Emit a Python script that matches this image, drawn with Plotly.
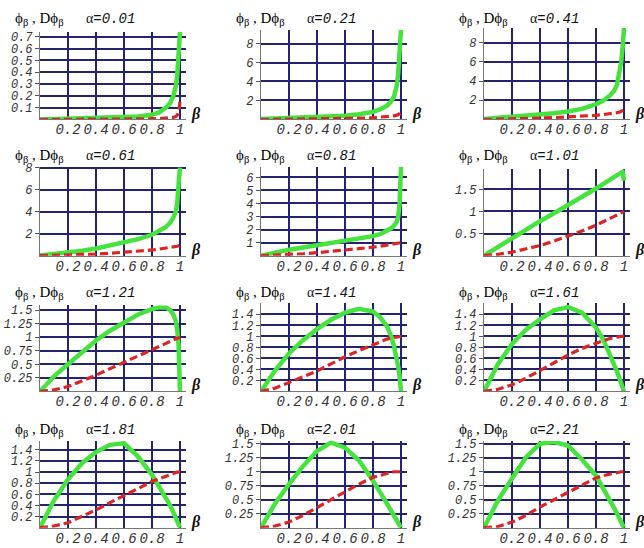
import plotly.graph_objects as go

# beta sample points shared by all panels
beta = [0, 0.1, 0.2, 0.3, 0.4, 0.5, 0.6, 0.7, 0.8, 0.85, 0.9, 0.93, 0.95, 0.97, 0.98, 0.99, 1.0]

alphas = ["0.01", "0.21", "0.41", "0.61", "0.81", "1.01",
          "1.21", "1.41", "1.61", "1.81", "2.01", "2.21"]

# phi_beta (green)
phi = [
    [0.0, 0.003, 0.005, 0.007, 0.01, 0.012, 0.018, 0.025, 0.04, 0.06, 0.1, 0.14, 0.19, 0.28, 0.37, 0.52, 0.74],
    [0.05, 0.1, 0.15, 0.2, 0.25, 0.3, 0.4, 0.55, 0.8, 1.05, 1.45, 1.9, 2.4, 3.6, 4.8, 7.2, 9.45],
    [0.05, 0.15, 0.27, 0.38, 0.5, 0.65, 0.82, 1.1, 1.6, 1.95, 2.5, 3.0, 3.6, 4.9, 6.0, 7.5, 9.5],
    [0.02, 0.15, 0.27, 0.45, 0.65, 0.9, 1.15, 1.5, 1.9, 2.2, 2.6, 3.0, 3.4, 4.0, 4.7, 6.5, 8.0],
    [0.0, 0.25, 0.45, 0.62, 0.8, 0.95, 1.1, 1.3, 1.5, 1.65, 1.9, 2.1, 2.3, 2.6, 3.0, 4.0, 6.8],
    [0.0, 0.2, 0.4, 0.6, 0.78, 0.96, 1.14, 1.33, 1.52, 1.62, 1.72, 1.78, 1.83, 1.88, 1.91, 1.9, 1.7],
    [0.0, 0.28, 0.5, 0.73, 0.94, 1.12, 1.28, 1.42, 1.52, 1.55, 1.55, 1.5, 1.43, 1.3, 1.15, 0.85, 0.0],
    [0.0, 0.38, 0.69, 0.93, 1.13, 1.3, 1.43, 1.5, 1.45, 1.35, 1.18, 1.0, 0.82, 0.6, 0.45, 0.28, 0.0],
    [0.0, 0.5, 0.86, 1.12, 1.31, 1.47, 1.53, 1.43, 1.16, 0.95, 0.66, 0.5, 0.36, 0.22, 0.14, 0.07, 0.0],
    [0.0, 0.49, 0.87, 1.16, 1.36, 1.49, 1.52, 1.28, 0.95, 0.75, 0.52, 0.4, 0.29, 0.17, 0.11, 0.05, 0.0],
    [0.0, 0.43, 0.78, 1.1, 1.37, 1.52, 1.43, 1.2, 0.84, 0.65, 0.43, 0.3, 0.21, 0.12, 0.08, 0.04, 0.0],
    [0.0, 0.49, 0.88, 1.26, 1.5, 1.53, 1.47, 1.22, 0.93, 0.72, 0.49, 0.35, 0.25, 0.15, 0.1, 0.05, 0.0],
]

# D phi_beta (red dashed)
dphi = [
    [0, 0, 0, 0, 0.001, 0.001, 0.002, 0.003, 0.005, 0.007, 0.01, 0.013, 0.017, 0.025, 0.035, 0.06, 0.15],
    [0, 0.01, 0.02, 0.03, 0.05, 0.07, 0.1, 0.13, 0.18, 0.22, 0.28, 0.33, 0.38, 0.45, 0.5, 0.6, 0.8],
    [0, 0.02, 0.05, 0.09, 0.14, 0.19, 0.25, 0.33, 0.43, 0.5, 0.58, 0.65, 0.7, 0.78, 0.83, 0.9, 1.0],
    [0, 0.02, 0.05, 0.1, 0.15, 0.22, 0.3, 0.4, 0.52, 0.6, 0.68, 0.73, 0.78, 0.83, 0.86, 0.9, 0.95],
    [0, 0.03, 0.08, 0.15, 0.23, 0.32, 0.42, 0.53, 0.65, 0.72, 0.8, 0.85, 0.88, 0.92, 0.94, 0.97, 1.0],
    [0, 0.03, 0.08, 0.15, 0.23, 0.33, 0.44, 0.56, 0.69, 0.76, 0.84, 0.89, 0.92, 0.95, 0.97, 0.985, 1.0],
    [0, 0.03, 0.09, 0.19, 0.3, 0.42, 0.54, 0.66, 0.77, 0.83, 0.89, 0.93, 0.95, 0.97, 0.98, 0.99, 1.0],
    [0, 0.06, 0.16, 0.26, 0.37, 0.5, 0.63, 0.74, 0.85, 0.9, 0.95, 0.97, 0.98, 0.99, 1.0, 1.0, 1.0],
    [0, 0.04, 0.12, 0.24, 0.38, 0.52, 0.66, 0.78, 0.88, 0.92, 0.96, 0.98, 0.99, 1.0, 1.0, 1.0, 1.0],
    [0, 0.03, 0.09, 0.2, 0.32, 0.45, 0.58, 0.71, 0.83, 0.88, 0.93, 0.96, 0.98, 0.99, 1.0, 1.0, 1.0],
    [0, 0.03, 0.1, 0.22, 0.36, 0.5, 0.64, 0.78, 0.9, 0.94, 0.97, 0.99, 1.0, 1.0, 1.0, 1.0, 1.0],
    [0, 0.02, 0.1, 0.22, 0.37, 0.5, 0.64, 0.77, 0.89, 0.93, 0.96, 0.98, 0.99, 1.0, 1.0, 1.0, 1.0],
]

# y-axis ticks per panel
ytick_vals = [
    [0.1, 0.2, 0.3, 0.4, 0.5, 0.6, 0.7],
    [2, 4, 6, 8], [2, 4, 6, 8], [2, 4, 6, 8],
    [1, 2, 3, 4, 5, 6],
    [0.5, 1, 1.5],
    [0.25, 0.5, 0.75, 1, 1.25, 1.5],
    [0.2, 0.4, 0.6, 0.8, 1, 1.2, 1.4],
    [0.2, 0.4, 0.6, 0.8, 1, 1.2, 1.4],
    [0.2, 0.4, 0.6, 0.8, 1, 1.2, 1.4],
    [0.25, 0.5, 0.75, 1, 1.25, 1.5],
    [0.25, 0.5, 0.75, 1, 1.25, 1.5],
]
y_max = [0.742, 9.45, 9.55, 8.1, 6.83, 1.95, 1.59, 1.6, 1.6, 1.56, 1.55, 1.55]
xtick_vals = [0.2, 0.4, 0.6, 0.8, 1]
xtick_text = ["0.2", "0.4", "0.6", "0.8", "1"]

# pixel layout (644 x 548 canvas)
W, H = 644, 548
col_x0 = [40, 261, 484]
unit_px = 140
x_hi = 1.04
row_y0 = [115.5, 253, 390, 527.5]
top_px = [27, 25, 23, 163, 163, 166, 303, 301, 301, 440, 440, 440]
label_y = [14, 152, 291, 429]

GREEN = "#46e23e"
RED = "#dc2424"
GRID = "#23236e"
XTICK_FONT = dict(family="Liberation Mono", size=14, color="#333", style="italic")
YTICK_FONT = dict(family="Liberation Mono", size=12, color="#333", style="italic")

fig = go.Figure()
annotations = []
layout = {}

for i in range(12):
    r, c = divmod(i, 3)
    n = "" if i == 0 else str(i + 1)
    x0 = col_x0[c]
    x1 = x0 + unit_px * x_hi
    yb = row_y0[r]
    yt = top_px[i]

    fig.add_trace(go.Scatter(
        x=beta, y=phi[i], mode="lines", xaxis="x" + n, yaxis="y" + n,
        line=dict(color=GREEN, width=4.5), showlegend=False,
    ))
    fig.add_trace(go.Scatter(
        x=beta, y=dphi[i], mode="lines", xaxis="x" + n, yaxis="y" + n,
        line=dict(color=RED, width=3.2, dash="8px,4px"), showlegend=False,
    ))

    layout["xaxis" + n] = dict(
        domain=[x0 / W, x1 / W], range=[0, x_hi], anchor="y" + n,
        tickvals=xtick_vals, ticktext=xtick_text, tickfont=XTICK_FONT,
        ticklabelstandoff=-3,
        showgrid=True, gridcolor=GRID, gridwidth=1.6,
        showline=True, linecolor="#777", linewidth=1.2,
        ticks="", zeroline=False, fixedrange=True,
    )
    layout["yaxis" + n] = dict(
        domain=[1 - yb / H, 1 - yt / H], range=[0, y_max[i]], anchor="x" + n,
        tickvals=ytick_vals[i], ticktext=[f"{v:g}" for v in ytick_vals[i]],
        tickfont=YTICK_FONT, showgrid=True, gridcolor=GRID, gridwidth=1.6,
        showline=True, linecolor="#777", linewidth=1.2,
        ticks="outside", ticklen=4, tickcolor="#555",
        zeroline=False, fixedrange=True,
    )

    # axis labels and title
    annotations.append(dict(
        x=(x0 - 27) / W, y=1 - label_y[r] / H, xref="paper", yref="paper",
        xanchor="left", yanchor="middle", showarrow=False,
        text="ϕ<sub>β</sub> , Dϕ<sub>β</sub>",
        font=dict(family="Liberation Serif", size=15, color="#000"),
    ))
    annotations.append(dict(
        x=(x0 + unit_px * 0.5) / W, y=1 - label_y[r] / H, xref="paper", yref="paper",
        xanchor="center", yanchor="middle", showarrow=False,
        text="α<span style='font-family:Liberation Mono'><i>=" + alphas[i] + "</i></span>",
        font=dict(family="Liberation Serif", size=14, color="#111"),
    ))
    annotations.append(dict(
        x=(x1 + 3) / W, y=1 - (yb - 6) / H, xref="paper", yref="paper",
        xanchor="left", yanchor="middle", showarrow=False,
        text="<b><i>β</i></b>",
        font=dict(family="Liberation Serif", size=16, color="#111"),
    ))

fig.update_layout(
    width=W, height=H,
    margin=dict(l=0, r=0, t=0, b=0),
    paper_bgcolor="white", plot_bgcolor="white",
    annotations=annotations,
    **layout,
)

fig.write_html(
    "out.html",
    config={"displayModeBar": False},
    post_script="document.body.style.margin='0';",
)
